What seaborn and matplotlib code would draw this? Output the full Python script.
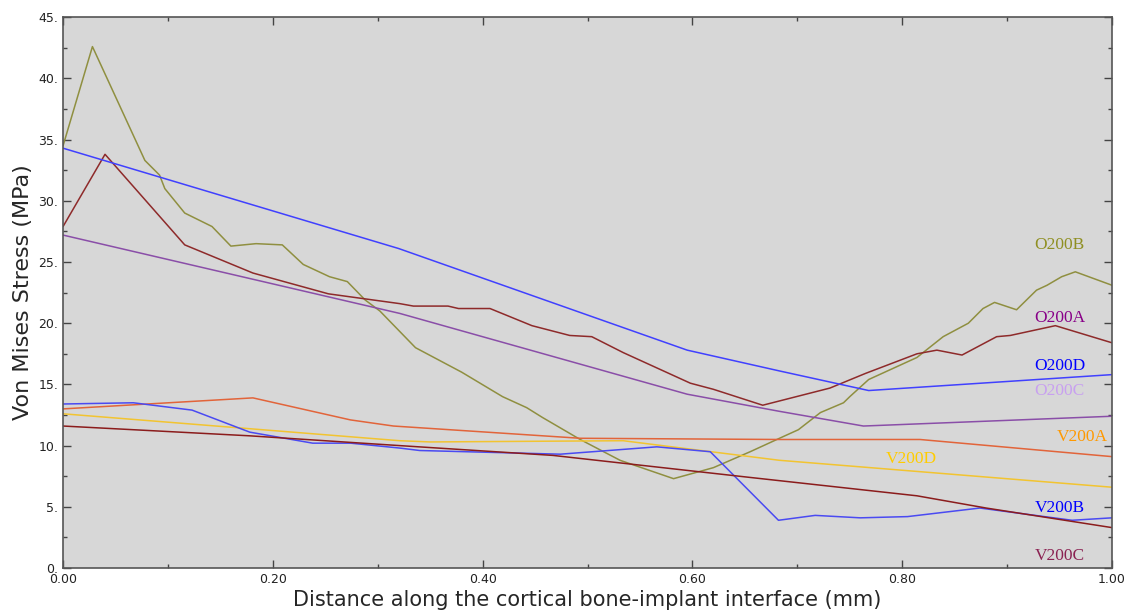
import seaborn as sns
import numpy as np
import pandas as pd
import matplotlib
matplotlib.use("Agg")
import matplotlib.pyplot as plt
from matplotlib.ticker import MultipleLocator, FuncFormatter

o200b_x = [0.0, 0.028, 0.078, 0.092, 0.097, 0.116, 0.142, 0.160, 0.184, 0.209, 0.229, 0.254, 0.271,
           0.288, 0.302, 0.336, 0.380, 0.419, 0.442, 0.457, 0.493, 0.531, 0.582, 0.620, 0.655, 0.683,
           0.701, 0.722, 0.744, 0.750, 0.768, 0.814, 0.839, 0.863, 0.877, 0.888, 0.909, 0.928, 0.938,
           0.952, 0.965, 1.0]
o200b_y = [34.5, 42.6, 33.3, 32.1, 31.0, 29.0, 27.9, 26.3, 26.5, 26.4, 24.8, 23.8, 23.4,
           21.9, 21.0, 18.0, 16.0, 14.0, 13.1, 12.3, 10.5, 8.8, 7.3, 8.2, 9.5, 10.6,
           11.3, 12.7, 13.5, 14.0, 15.4, 17.2, 18.9, 20.0, 21.2, 21.7, 21.1, 22.7, 23.1,
           23.8, 24.2, 23.1]

o200a_x = [0.0, 0.040, 0.116, 0.181, 0.253, 0.321, 0.334, 0.367, 0.377, 0.407, 0.447, 0.483, 0.504,
           0.534, 0.598, 0.620, 0.667, 0.731, 0.765, 0.814, 0.833, 0.857, 0.890, 0.903, 0.946, 1.0]
o200a_y = [27.9, 33.8, 26.4, 24.1, 22.4, 21.6, 21.4, 21.4, 21.2, 21.2, 19.8, 19.0, 18.9,
           17.6, 15.1, 14.6, 13.3, 14.7, 15.9, 17.5, 17.8, 17.4, 18.9, 19.0, 19.8, 18.4]

o200d_x = [0.0, 0.320, 0.595, 0.683, 0.768, 1.0]
o200d_y = [34.3, 26.1, 17.8, 16.1, 14.5, 15.8]

o200c_x = [0.0, 0.321, 0.595, 0.683, 0.763, 1.0]
o200c_y = [27.2, 20.8, 14.2, 12.8, 11.6, 12.4]

v200a_x = [0.0, 0.181, 0.274, 0.315, 0.493, 0.683, 0.817, 1.0]
v200a_y = [13.0, 13.9, 12.1, 11.6, 10.6, 10.5, 10.5, 9.1]

v200d_x = [0.0, 0.321, 0.350, 0.534, 0.683, 1.0]
v200d_y = [12.6, 10.4, 10.3, 10.4, 8.8, 6.6]

v200b_x = [0.0, 0.067, 0.123, 0.178, 0.238, 0.274, 0.321, 0.340, 0.474, 0.566, 0.617, 0.682,
           0.717, 0.760, 0.805, 0.874, 0.962, 1.0]
v200b_y = [13.4, 13.5, 12.9, 11.1, 10.2, 10.2, 9.8, 9.6, 9.3, 9.9, 9.5, 3.9,
           4.3, 4.1, 4.2, 4.9, 3.9, 4.1]

v200c_x = [0.0, 0.178, 0.321, 0.467, 0.655, 0.814, 0.880, 1.0]
v200c_y = [11.6, 10.8, 10.0, 9.2, 7.4, 5.9, 4.9, 3.3]

series_names = ["O200B", "O200A", "O200D", "O200C", "V200A", "V200D", "V200B", "V200C"]
line_colors = ["#8f8f40", "#8e2a2a", "#4040ff", "#8a4ea8", "#e2643a", "#f2c430", "#4a4af2", "#8b1c1c"]
label_colors = ["#8f8f22", "#880088", "#0000ff", "#c8a0f0", "#ff9900", "#ffcc00", "#0000ff", "#8b2252"]
label_x = [0.950, 0.950, 0.950, 0.950, 0.972, 0.809, 0.950, 0.950]
label_y = [26.4, 20.4, 16.5, 14.5, 10.7, 8.9, 4.9, 1.0]

xs = [o200b_x, o200a_x, o200d_x, o200c_x, v200a_x, v200d_x, v200b_x, v200c_x]
ys = [o200b_y, o200a_y, o200d_y, o200c_y, v200a_y, v200d_y, v200b_y, v200c_y]

sns.set_style("ticks")
plt.rcParams["font.family"] = ["DejaVu Sans"]

fig = plt.figure(figsize=(11.26, 6.15), dpi=100)
ax = fig.add_axes([0.056, 0.0764, 0.9316, 0.8956])
ax.set_facecolor("#d7d7d7")

for name, x, y, c in zip(series_names, xs, ys, line_colors):
    df = pd.DataFrame({"x": x, "y": y})
    sns.lineplot(data=df, x="x", y="y", color=c, lw=1.1, ax=ax, sort=False)

for name, lx, ly, c in zip(series_names, label_x, label_y, label_colors):
    ax.text(lx, ly, name, color=c, fontsize=12.5, family="Liberation Serif",
            ha="center", va="center")

ax.set_xlim(0, 1.0)
ax.set_ylim(0, 45)
ax.xaxis.set_major_locator(MultipleLocator(0.2))
ax.xaxis.set_minor_locator(MultipleLocator(0.1))
ax.yaxis.set_major_locator(MultipleLocator(5))
ax.yaxis.set_minor_locator(MultipleLocator(2.5))
ax.xaxis.set_major_formatter(FuncFormatter(lambda v, p: f"{v:.2f}"))
ax.yaxis.set_major_formatter(FuncFormatter(lambda v, p: f"{v:.0f}."))
ax.tick_params(which="both", direction="in", top=True, right=True, colors="#444444",
               labelcolor="#222222", labelsize=9)
ax.tick_params(which="major", length=6, width=1)
ax.tick_params(which="minor", length=3, width=1)
for s in ax.spines.values():
    s.set_color("#555555")
    s.set_linewidth(1.2)

ax.set_xlabel("Distance along the cortical bone-implant interface (mm)", fontsize=15, labelpad=3)
ax.set_ylabel("Von Mises Stress (MPa)", fontsize=16, labelpad=4)

fig.savefig("out.png", dpi=100)
